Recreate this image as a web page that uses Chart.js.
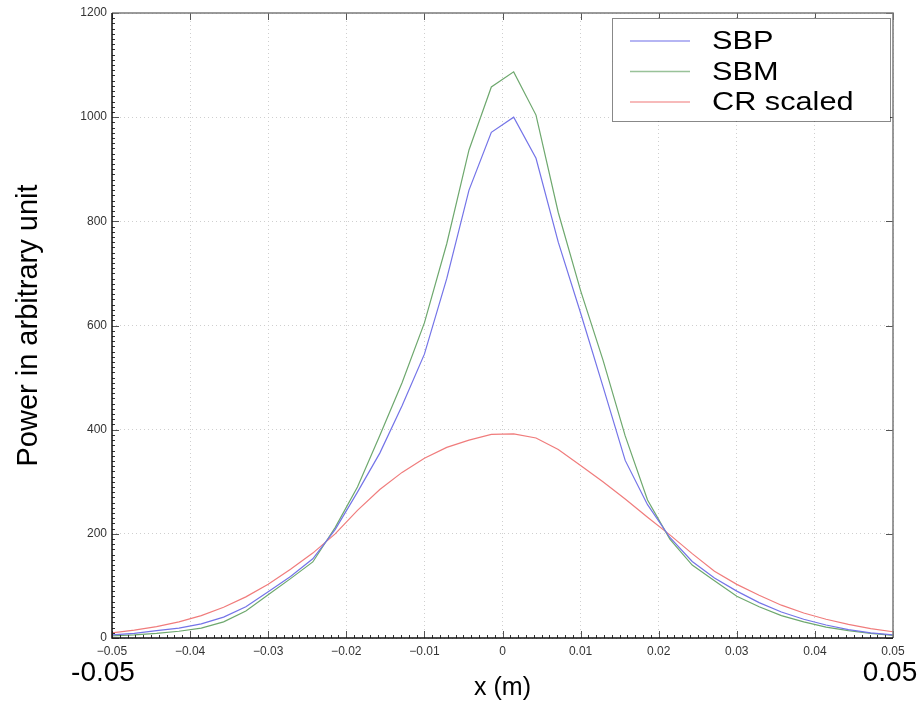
<!DOCTYPE html>
<html>
<head>
<meta charset="utf-8">
<script src="https://cdn.jsdelivr.net/npm/chart.js@4.4.1/dist/chart.umd.min.js"></script>
<style>
    html, body { margin: 0; padding: 0; background: #ffffff; }
    #graficos { width: 920px; height: 703px; }
</style>
</head>
<body>
<div id="graficos"><canvas id="myChartCanvas" width="920" height="703"></canvas></div>
<script>
    // posicoes x (m) dos pontos
    const posicoesX = [
        -0.05000, -0.04714, -0.04429, -0.04143, -0.03857, -0.03571, -0.03286, -0.03000, -0.02714,
        -0.02429, -0.02143, -0.01857, -0.01571, -0.01286, -0.01000, -0.00714, -0.00429, -0.00143,
         0.00143,  0.00429,  0.00714,  0.01000,  0.01286,  0.01571,  0.01857,  0.02143,  0.02429,
         0.02714,  0.03000,  0.03286,  0.03571,  0.03857,  0.04143,  0.04429,  0.04714,  0.05000
    ];

    // potencia (unidade arbitraria) de cada serie
    const potenciaSBP = [
        6, 9, 14, 19, 27, 40, 60, 89, 118, 152, 208, 280, 355, 446, 545, 690, 860, 971,
        1000, 921, 760, 624, 483, 341, 256, 193, 147, 115, 90, 68, 50, 36, 25, 16, 10, 6
    ];
    const potenciaSBM = [
        4, 6, 9, 13, 19, 31, 52, 83, 114, 146, 212, 290, 389, 490, 605, 757, 937, 1058,
        1087, 1004, 817, 667, 534, 388, 265, 190, 140, 110, 80, 60, 43, 31, 21, 14, 9, 5
    ];
    const potenciaCR = [
        10, 15, 22, 31, 43, 59, 79, 103, 132, 163, 200, 245, 285, 318, 345, 366, 380, 391,
        392, 384, 362, 331, 300, 267, 232, 198, 162, 128, 103, 82, 63, 48, 36, 26, 18, 12
    ];

    const nomesSeries = ['SBP', 'SBM', 'CR scaled'];
    const coresSeries = ['#7474e8', '#6ea86e', '#f07c7c'];
    const ticksX = [-0.05, -0.04, -0.03, -0.02, -0.01, 0, 0.01, 0.02, 0.03, 0.04, 0.05];
    const ticksY = [0, 200, 400, 600, 800, 1000, 1200];

    function montarPontos(valores) {
        return posicoesX.map((x, i) => ({ x: x, y: valores[i] }));
    }

    function formatarX(v) {
        let r = Math.round(v * 100) / 100;
        if (r === 0) return '0';
        let txt = Math.abs(r).toFixed(2);
        return r < 0 ? '\u2212' + txt : txt;
    }

    // moldura, marcas de escala, legenda e rotulos grandes
    const pluginMoldura = {
        id: 'moldura',
        afterDraw(chart) {
            const ctx = chart.ctx;
            const a = chart.chartArea;
            const sx = chart.scales.x;
            const sy = chart.scales.y;

            ctx.save();
            // marcas menores
            ctx.strokeStyle = '#333';
            ctx.lineWidth = 1;
            ctx.beginPath();
            for (let i = 0; i <= 100; i++) {
                let px = Math.round(sx.getPixelForValue(-0.05 + i * 0.001)) + 0.5;
                ctx.moveTo(px, a.bottom);
                ctx.lineTo(px, a.bottom - 3);
            }
            for (let i = 0; i <= 120; i++) {
                let py = Math.round(sy.getPixelForValue(i * 10)) + 0.5;
                ctx.moveTo(a.left, py);
                ctx.lineTo(a.left + 3, py);
            }
            ctx.stroke();

            // marcas maiores
            ctx.strokeStyle = '#555';
            ctx.beginPath();
            ticksX.forEach(t => {
                let px = Math.round(sx.getPixelForValue(t)) + 0.5;
                ctx.moveTo(px, a.bottom); ctx.lineTo(px, a.bottom - 7);
                ctx.moveTo(px, a.top); ctx.lineTo(px, a.top + 7);
            });
            ticksY.forEach(t => {
                let py = Math.round(sy.getPixelForValue(t)) + 0.5;
                ctx.moveTo(a.left, py); ctx.lineTo(a.left + 7, py);
                ctx.moveTo(a.right, py); ctx.lineTo(a.right - 7, py);
            });
            ctx.stroke();

            // eixos
            ctx.lineWidth = 1.5;
            ctx.strokeStyle = '#7a7a7a';
            ctx.beginPath();
            ctx.moveTo(a.left, a.top); ctx.lineTo(a.right, a.top); ctx.lineTo(a.right, a.bottom);
            ctx.stroke();
            ctx.strokeStyle = '#111';
            ctx.beginPath();
            ctx.moveTo(a.left, a.top); ctx.lineTo(a.left, a.bottom); ctx.lineTo(a.right, a.bottom);
            ctx.stroke();

            // legenda
            const lx = 612, ly = 18, lw = 278, lh = 103;
            ctx.fillStyle = '#ffffff';
            ctx.fillRect(lx, ly, lw, lh);
            ctx.setLineDash([1, 1]);
            ctx.strokeStyle = '#111';
            ctx.lineWidth = 1;
            ctx.strokeRect(lx + 0.5, ly + 0.5, lw, lh);
            ctx.setLineDash([]);
            nomesSeries.forEach((nome, i) => {
                let y = 41 + i * 30.5;
                ctx.strokeStyle = coresSeries[i];
                ctx.globalAlpha = 0.7;
                ctx.lineWidth = 1.5;
                ctx.beginPath();
                ctx.moveTo(630, y); ctx.lineTo(690, y);
                ctx.stroke();
                ctx.globalAlpha = 1;
                ctx.save();
                ctx.translate(712, y);
                ctx.scale(1.18, 1);
                ctx.fillStyle = '#000';
                ctx.font = '26px "Liberation Sans", Arial, sans-serif';
                ctx.textBaseline = 'middle';
                ctx.textAlign = 'left';
                ctx.fillText(nome, 0, 1);
                ctx.restore();
            });

            // rotulos grandes das extremidades
            ctx.fillStyle = '#000';
            ctx.font = '28px "Liberation Sans", Arial, sans-serif';
            ctx.textBaseline = 'middle';
            ctx.textAlign = 'center';
            ctx.fillText('-0.05', sx.getPixelForValue(-0.05) - 9, 673);
            ctx.fillText('0.05', sx.getPixelForValue(0.05) - 3, 673);
            ctx.restore();
        }
    };

    const dados = {
        datasets: [
            { label: nomesSeries[0], data: montarPontos(potenciaSBP), borderColor: coresSeries[0] },
            { label: nomesSeries[1], data: montarPontos(potenciaSBM), borderColor: coresSeries[1] },
            { label: nomesSeries[2], data: montarPontos(potenciaCR), borderColor: coresSeries[2] }
        ].map(d => Object.assign(d, {
            showLine: true, borderWidth: 1.2, pointRadius: 0, tension: 0, fill: false
        }))
    };

    const config = {
        type: 'scatter',
        data: dados,
        options: {
            responsive: false,
            animation: false,
            devicePixelRatio: 1,
            layout: { padding: { top: 13, right: 27, left: 0, bottom: 0 } },
            plugins: { legend: { display: false }, tooltip: { enabled: false } },
            scales: {
                x: {
                    type: 'linear', min: -0.05, max: 0.05,
                    afterBuildTicks: s => { s.ticks = ticksX.map(v => ({ value: v })); },
                    afterFit: s => { s.height = 65; },
                    ticks: {
                        callback: v => formatarX(v), autoSkip: false, maxRotation: 0,
                        padding: 6, color: '#333',
                        font: { size: 12, family: '"Liberation Sans", Arial, sans-serif' }
                    },
                    grid: { color: '#cfcfcf', lineWidth: 1, drawTicks: false },
                    border: { display: false, dash: [1, 3] },
                    title: {
                        display: true, text: 'x (m)', color: '#000',
                        font: { size: 25, family: '"Liberation Sans", Arial, sans-serif' },
                        padding: { top: 0, bottom: 0 }
                    }
                },
                y: {
                    min: 0, max: 1200,
                    afterBuildTicks: s => { s.ticks = ticksY.map(v => ({ value: v })); },
                    afterFit: s => { s.width = 112; },
                    ticks: {
                        callback: v => String(Math.round(v)),
                        padding: 5, color: '#333',
                        font: { size: 12, family: '"Liberation Sans", Arial, sans-serif' }
                    },
                    grid: { color: '#cfcfcf', lineWidth: 1, drawTicks: false },
                    border: { display: false, dash: [1, 3] },
                    title: {
                        display: true, text: 'Power in arbitrary unit', color: '#000',
                        font: { size: 29, family: '"Liberation Sans", Arial, sans-serif' },
                        padding: { top: 12, bottom: 0 }
                    }
                }
            }
        },
        plugins: [pluginMoldura]
    };

    let myChart = new Chart(document.getElementById('myChartCanvas'), config);
</script>
</body>
</html>
